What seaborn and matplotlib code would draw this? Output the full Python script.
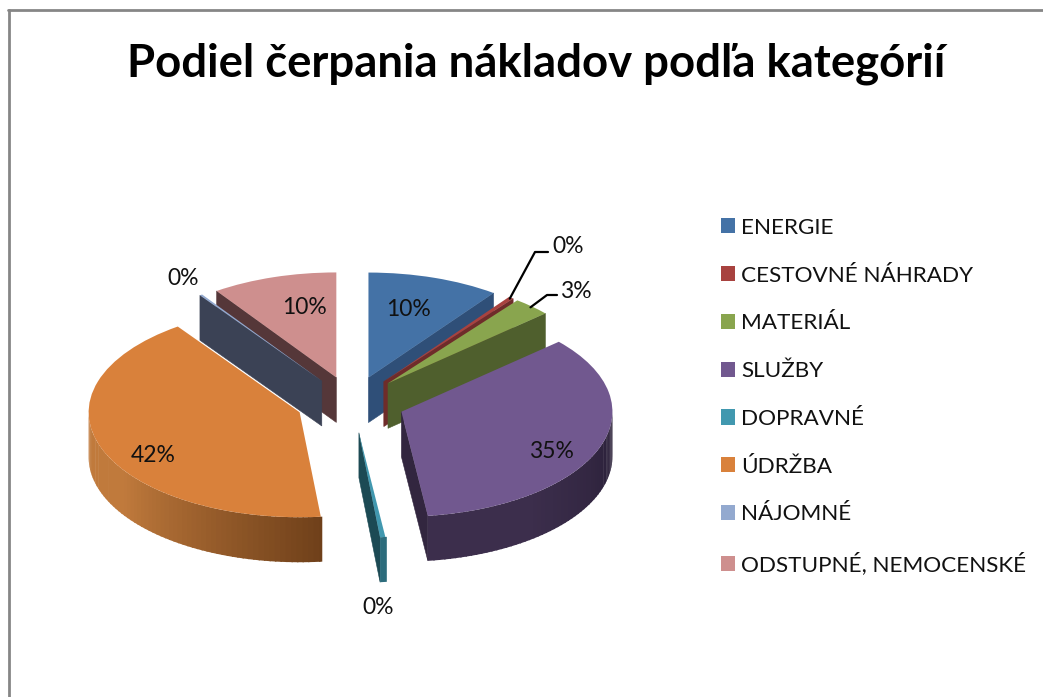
import numpy as np
import matplotlib
matplotlib.use('Agg')
import matplotlib.pyplot as plt
from matplotlib.lines import Line2D
from matplotlib.colors import to_rgb
import seaborn as sns

W, H = 1043, 697

categories = ['ENERGIE', 'CESTOVNÉ NÁHRADY', 'MATERIÁL', 'SLUŽBY', 'DOPRAVNÉ',
              'ÚDRŽBA', 'NÁJOMNÉ', 'ODSTUPNÉ, NEMOCENSKÉ']
shares = [10.1, 0.4, 2.9, 34.6, 0.4, 41.8, 0.2, 9.6]
explode = [0.25, 0.25, 0.25, 0.25, 0.29, 0.265, 0.25, 0.25]

top_colors = ['#4472A6', '#A8423F', '#89A54E', '#71588F', '#4198AF', '#D9813B', '#93A9CF', '#CE8F8E']
cut_colors = ['#2F4F78', '#6F2C2A', '#4F5F2D', '#32263F', '#1C4A54', '#6F411C', '#3B4255', '#553739']
rim_light = ['#2F4F78', '#6F2C2A', '#4F5F2D', '#3C2E4C', '#2C6C7C', '#C07A3C', '#3B4255', '#553739']
rim_dark = ['#2F4F78', '#6F2C2A', '#4F5F2D', '#291F37', '#1F4E5A', '#6F401A', '#3B4255', '#553739']

# label text position in pixels of the picture
label_pos = [(408, 309), (568, 246), (576, 291), (551, 452), (378, 608), (153, 455), (183, 278), (304, 307)]

# pie geometry in pixels
cx, cy, rx, ry, depth = 352, 402.5, 211, 105, 45

sns.set_theme(style='white')
plt.rcParams['font.family'] = ['Lato', 'DejaVu Sans']
palette = sns.color_palette(top_colors)


def fx(x):
    return x / W


def fy(y):
    return 1 - y / H


fig = plt.figure(figsize=(W / 100, H / 100), dpi=100, facecolor='white')
ax = fig.add_axes([0, 0, 1, 1])
wedges, _ = ax.pie(shares, explode=explode, colors=palette, startangle=90, counterclock=False,
                   radius=1, wedgeprops={'linewidth': 0})
ax.set_aspect('auto')
ax.set_xlim(-cx / rx, (W - cx) / rx)
ax.set_ylim((cy - H) / ry, cy / ry)
ax.axis('off')

d = depth / ry
# slices further up the picture are painted first
order = sorted(range(len(wedges)), key=lambda i: -wedges[i].center[1])

for rank, i in enumerate(order):
    w = wedges[i]
    z = 2 + rank * 3
    x0, y0 = w.center
    w.set_zorder(z + 2)

    # flat cut faces, only the ones turned to the viewer
    for ang, sign in ((w.theta1, -1), (w.theta2, 1)):
        a = np.radians(ang)
        ex, ey = x0 + np.cos(a), y0 + np.sin(a)
        if sign * np.cos(a) < 0:
            ax.fill([x0, ex, ex, x0], [y0, ey, ey - d, y0 - d], color=cut_colors[i],
                    lw=0.4, zorder=z)

    # outer rim, cut in thin strips for the shading, light on the left, dark on the right
    angles = np.append(np.arange(w.theta1, w.theta2, 1.5), w.theta2)
    strips = [(a1, a2) for a1, a2 in zip(angles[:-1], angles[1:])
              if np.sin(np.radians((a1 + a2) / 2)) <= 0.02]
    c1, c2 = np.array(to_rgb(rim_light[i])), np.array(to_rgb(rim_dark[i]))
    for k, (a1, a2) in enumerate(strips):
        f = k / max(len(strips) - 1, 1)
        col = c1 + (c2 - c1) * np.clip((f - 0.35) / 0.65, 0, 1)
        th = np.radians([a1, a2 + 0.4])
        xs = x0 + np.cos(th)
        ys = y0 + np.sin(th)
        ax.fill([xs[0], xs[1], xs[1], xs[0]], [ys[0], ys[1], ys[1] - d, ys[0] - d],
                facecolor=col, edgecolor='none', zorder=z + 1)

total = sum(shares)
for v, (lx, ly) in zip(shares, label_pos):
    fig.text(fx(lx), fy(ly), f'{100 * v / total:.0f}%', fontsize=16.5, color='#111111',
             ha='center', va='center')


# leader lines start on the slice rim
def rim_point(i, frac=1.0):
    w = wedges[i]
    a = np.radians((w.theta1 + w.theta2) / 2)
    return ax.transData.transform((w.center[0] + frac * np.cos(a), w.center[1] + frac * np.sin(a)))


for i, knee, end in ((1, (535, 252), (548, 252)), (2, (547, 295), (557, 295))):
    sx, sy = rim_point(i, 0.99)
    fig.add_artist(Line2D([sx / W, fx(knee[0]), fx(end[0])], [sy / H, fy(knee[1]), fy(end[1])],
                          color='black', lw=1.6, zorder=50))

fig.text(fx(536), fy(64), 'Podiel čerpania nákladov podľa kategórií', fontsize=32.8, fontweight='bold',
         color='black', ha='center', va='center')

ax.legend(wedges, categories, loc='upper left', bbox_to_anchor=(fx(705), fy(202)), frameon=False,
          fontsize=16.2, labelspacing=1.235, handlelength=0.65, handleheight=0.65,
          handletextpad=0.25, borderpad=0.2, labelcolor='#111111')

border = '#868686'
fig.add_artist(Line2D([fx(9), fx(9)], [fy(10), fy(H)], color=border, lw=2))
fig.add_artist(Line2D([fx(8), fx(W)], [fy(10), fy(10)], color=border, lw=2))

fig.savefig('out.png', dpi=100, facecolor='white')
